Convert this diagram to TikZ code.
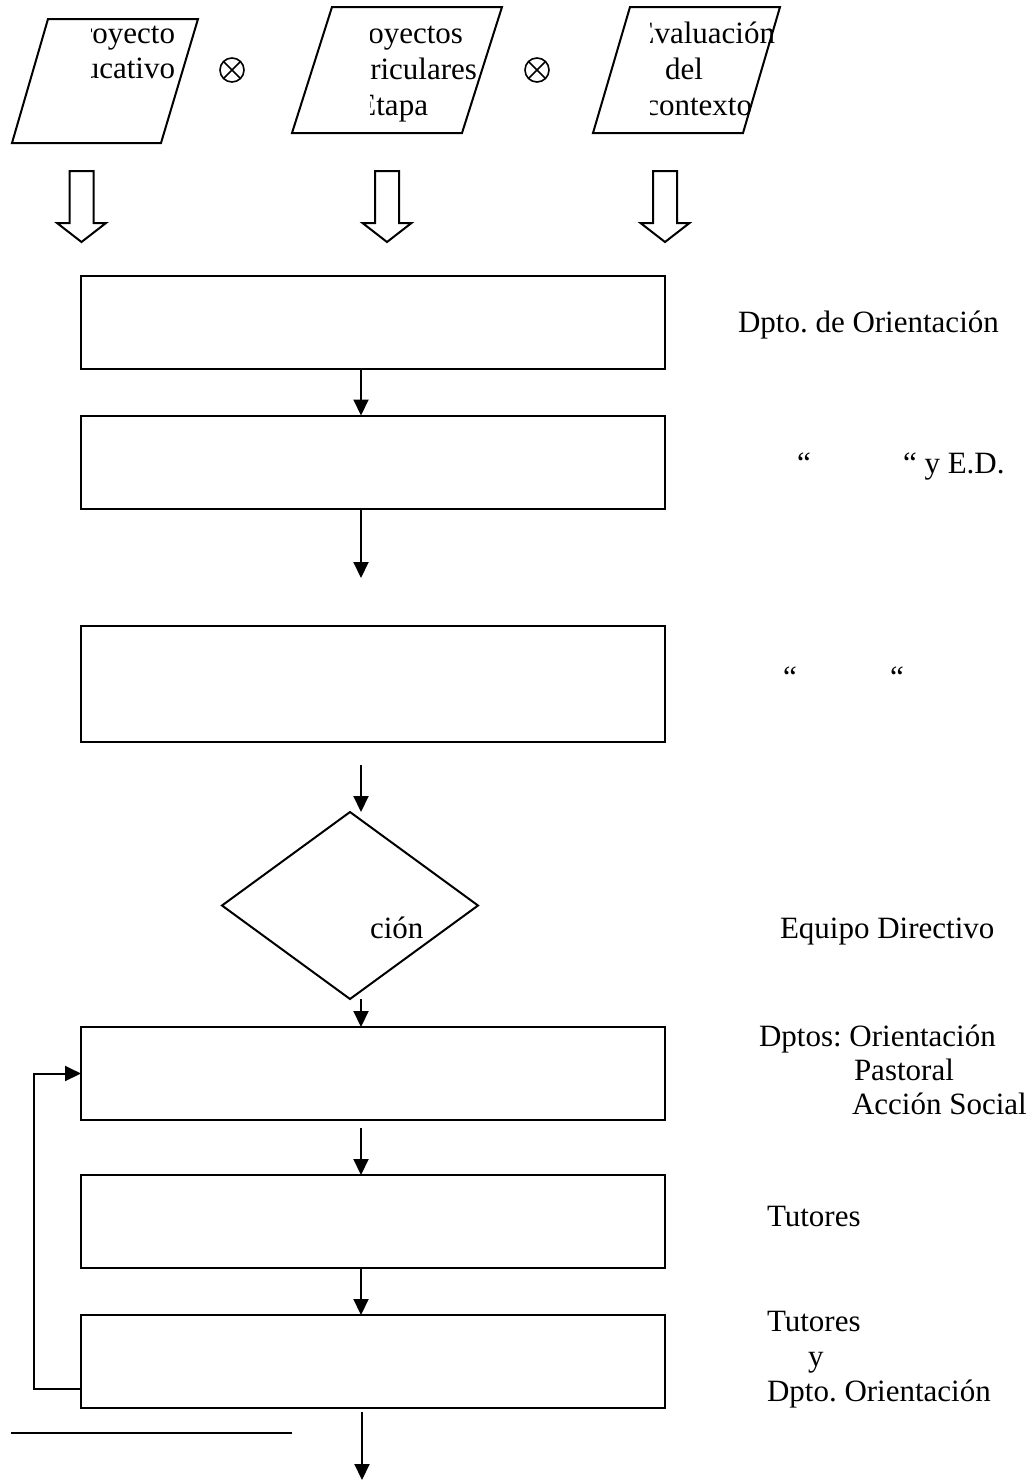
\documentclass[tikz,border=0pt]{standalone}
\usepackage{fontspec}
\setmainfont{Liberation Serif}
\usetikzlibrary{arrows.meta,shapes.geometric}
\frenchspacing
\begin{document}
\begin{tikzpicture}[x=1pt,y=-1pt,
  every node/.style={font=\fontsize{31}{35}\selectfont\frenchspacing, inner sep=0pt, outer sep=0pt},
  line/.style={line width=2pt},
  procbox/.style={draw, line width=2pt, minimum width=584pt, minimum height=93pt},
  flow/.style={line width=2pt, -{Triangle[length=16pt,width=15pt]}},
  hollow/.style={draw, line width=2pt, line join=miter},
  lbl/.style={anchor=base west},
  ptext/.style={anchor=base east},
  otimes/.style={circle, draw, line width=1.6pt, minimum size=24pt}]
\useasboundingbox (0,0) rectangle (1036,1481);

% input parallelograms
\draw[line] (48,19) coordinate (p1) -- (198,19) -- (161,143) -- (12,143) -- cycle;
\draw[line] (332,7) coordinate (p2) -- (502,7) -- (462,133) -- (292,133) -- cycle;
\draw[line] (630,7) coordinate (p3) -- (780,7) -- (743,133) -- (593,133) -- cycle;

\begin{scope}
  \clip (91,0) rectangle (260,160);
  \node[ptext] (t1a) at (175,43) {Proyecto};
  \node[ptext] (t1b) at (175,78) {Educativo};
\end{scope}
\begin{scope}
  \clip (370,0) rectangle (560,160);
  \node[ptext] (t2a) at (463,43) {Proyectos};
  \node[ptext] (t2b) at (477,79) {Curriculares};
  \node[ptext] (t2c) at (428,115) {Etapa};
\end{scope}
\begin{scope}
  \clip (650,0) rectangle (900,160);
  \node[ptext] (t3a) at (775,43) {Evaluación};
  \node[ptext] (t3b) at (703,79) {del};
  \node[ptext] (t3c) at (752,115) {contexto};
\end{scope}

% circled-times operators
\foreach \nm/\px in {ot1/232, ot2/537}{
  \node[otimes] (\nm) at (\px,70) {};
  \draw[line width=1.6pt] (\nm.45) -- (\nm.225) (\nm.135) -- (\nm.315);
}

% hollow arrows
\foreach \cx/\nm in {81.5/h1, 387/h2, 665/h3}{
  \draw[hollow] (\cx-12,171) -- (\cx+12,171) -- (\cx+12,223) -- (\cx+24.5,223)
    -- (\cx,242) coordinate (\nm) -- (\cx-24.5,223) -- (\cx-12,223) -- cycle;
}

% process boxes
\node[procbox] (b1) at (373,322.5) {};
\node[procbox] (b2) at (373,462) {};
\node[procbox, minimum height=116pt] (b3) at (373,684) {};
\node[diamond, draw, line width=2pt, minimum width=256pt, minimum height=187pt] (dia) at (350,905.5) {};
\node[lbl] (dtext) at (370,938) {ción};
\node[procbox] (b4) at (373,1073.5) {};
\node[procbox] (b5) at (373,1221.5) {};
\node[procbox] (b6) at (373,1361.5) {};

% connectors
\coordinate (ax) at (361,0);
\coordinate (e2) at (361,578);
\coordinate (s3) at (361,765);
\coordinate (s5) at (361,1128);
\coordinate (s7) at (362,1412);
\coordinate (e7) at (362,1480);
\coordinate (fb) at (34,0);
\draw[flow] (b1.south -| ax) -- (b2.north -| ax);
\draw[flow] (b2.south -| ax) -- (e2);
\draw[flow] (s3) -- (dia.north -| ax);
\draw[flow] (dia.south -| ax) -- (b4.north -| ax);
\draw[flow] (s5) -- (b5.north -| ax);
\draw[flow] (b5.south -| ax) -- (b6.north -| ax);
\draw[flow] (s7) -- (e7);
\draw[flow] ([yshift=19pt]b6.south west) -- ([yshift=19pt]b6.south west -| fb)
  -- (b4.west -| fb) -- (b4.west);

% footnote rule
\coordinate (l1) at (11,1433);
\coordinate (l2) at (292,1433);
\draw[line] (l1) -- (l2);

% side labels
\node[lbl] (L1) at (738,332) {Dpto. de Orientación};
\node[lbl] (L2a) at (797,473) {“};
\node[lbl] (L2b) at (903,473) {“ y E.D.};
\node[lbl] (L3a) at (783,687) {“};
\node[lbl] (L3b) at (890,687) {“};
\node[lbl] (L4) at (780,938) {Equipo Directivo};
\node[lbl] (L5a) at (759,1046) {Dptos: Orientación};
\node[lbl] (L5b) at (854,1080) {Pastoral};
\node[lbl] (L5c) at (852,1114) {Acción Social};
\node[lbl] (L6) at (767,1226) {Tutores};
\node[lbl] (L7a) at (767,1331) {Tutores};
\node[lbl] (L7b) at (808,1366) {y};
\node[lbl] (L7c) at (767,1401) {Dpto. Orientación};
\end{tikzpicture}
\end{document}
